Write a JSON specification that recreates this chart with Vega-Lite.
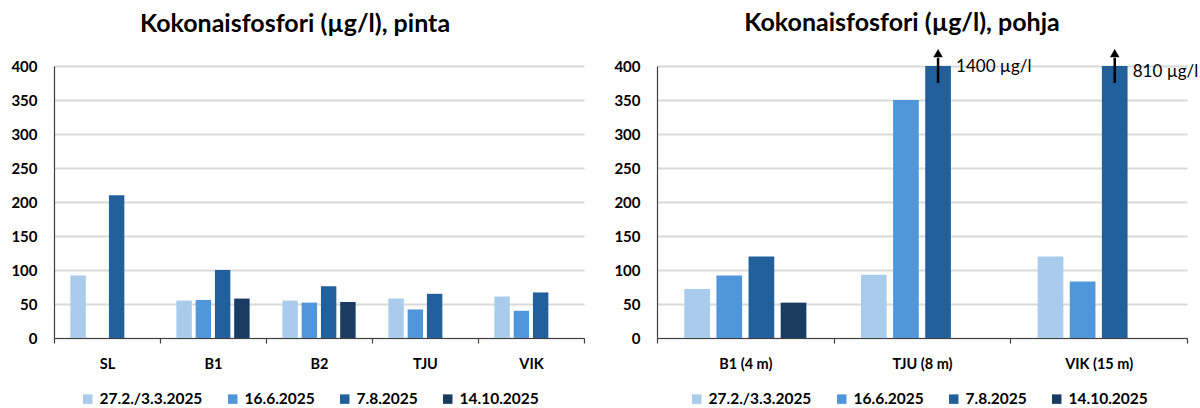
{
  "$schema": "https://vega.github.io/schema/vega-lite/v6.json",
  "padding": {"left": 10, "top": 10, "right": 0, "bottom": 0},
  "background": "white",
  "datasets": {
    "pinta": [
      {"site": "SL", "date": "27.2./3.3.2025", "value": 92},
      {"site": "SL", "date": "7.8.2025", "value": 210},
      {"site": "B1", "date": "27.2./3.3.2025", "value": 55},
      {"site": "B1", "date": "16.6.2025", "value": 56},
      {"site": "B1", "date": "7.8.2025", "value": 100},
      {"site": "B1", "date": "14.10.2025", "value": 58},
      {"site": "B2", "date": "27.2./3.3.2025", "value": 55},
      {"site": "B2", "date": "16.6.2025", "value": 52},
      {"site": "B2", "date": "7.8.2025", "value": 76},
      {"site": "B2", "date": "14.10.2025", "value": 53},
      {"site": "TJU", "date": "27.2./3.3.2025", "value": 58},
      {"site": "TJU", "date": "16.6.2025", "value": 42},
      {"site": "TJU", "date": "7.8.2025", "value": 65},
      {"site": "VIK", "date": "27.2./3.3.2025", "value": 61},
      {"site": "VIK", "date": "16.6.2025", "value": 40},
      {"site": "VIK", "date": "7.8.2025", "value": 67}
    ],
    "pohja": [
      {"site": "B1 (4 m)", "date": "27.2./3.3.2025", "value": 72},
      {"site": "B1 (4 m)", "date": "16.6.2025", "value": 92},
      {"site": "B1 (4 m)", "date": "7.8.2025", "value": 120},
      {"site": "B1 (4 m)", "date": "14.10.2025", "value": 52},
      {"site": "TJU (8 m)", "date": "27.2./3.3.2025", "value": 93},
      {"site": "TJU (8 m)", "date": "16.6.2025", "value": 350},
      {"site": "TJU (8 m)", "date": "7.8.2025", "value": 400},
      {"site": "VIK (15 m)", "date": "27.2./3.3.2025", "value": 120},
      {"site": "VIK (15 m)", "date": "16.6.2025", "value": 83},
      {"site": "VIK (15 m)", "date": "7.8.2025", "value": 400}
    ],
    "arrows": [
      {"site": "TJU (8 m)", "date": "7.8.2025", "y0": 375, "y1": 412, "head": 419, "labelY": 398, "label": "1400 µg/l"},
      {"site": "VIK (15 m)", "date": "7.8.2025", "y0": 375, "y1": 412, "head": 419, "labelY": 391, "label": "810 µg/l"}
    ]
  },
  "hconcat": [
    {
      "width": 530,
      "height": 272,
      "title": {"text": "Kokonaisfosfori (µg/l), pinta", "offset": 22, "dx": -24},
      "data": {"name": "pinta"},
      "mark": {"type": "bar"},
      "encoding": {
        "x": {"field": "site", "type": "nominal", "sort": ["SL", "B1", "B2", "TJU", "VIK"],
              "scale": {"paddingInner": 0, "paddingOuter": 0},
              "axis": {"title": null, "labelAngle": 0, "tickBand": "extent", "tickSize": 5, "labelPadding": 14, "grid": false}},
        "xOffset": {"field": "date", "type": "nominal",
                    "scale": {"domain": ["27.2./3.3.2025", "16.6.2025", "7.8.2025", "14.10.2025"], "paddingInner": 0.2, "paddingOuter": 0.85}},
        "y": {"field": "value", "type": "quantitative", "scale": {"domain": [0, 400], "nice": false},
              "axis": {"title": null, "values": [0, 50, 100, 150, 200, 250, 300, 350, 400], "ticks": false, "labelPadding": 17, "domain": true}},
        "color": {"field": "date", "type": "nominal",
                  "scale": {"domain": ["27.2./3.3.2025", "16.6.2025", "7.8.2025", "14.10.2025"], "range": ["#A9CBEC", "#5096DA", "#22609C", "#1A3C63"]},
                  "legend": {"orient": "none", "legendX": 26, "legendY": 325, "direction": "horizontal", "title": null}}
      }
    },
    {
      "width": 530,
      "height": 272,
      "title": {"text": "Kokonaisfosfori (µg/l), pohja", "offset": 13, "dx": -20},
      "layer": [
        {
          "data": {"name": "pohja"},
          "mark": {"type": "bar"},
          "encoding": {
            "x": {"field": "site", "type": "nominal", "sort": ["B1 (4 m)", "TJU (8 m)", "VIK (15 m)"],
                  "scale": {"paddingInner": 0, "paddingOuter": 0},
                  "axis": {"title": null, "labelAngle": 0, "tickBand": "extent", "tickSize": 5, "labelPadding": 14, "grid": false}},
            "xOffset": {"field": "date", "type": "nominal",
                        "scale": {"domain": ["27.2./3.3.2025", "16.6.2025", "7.8.2025", "14.10.2025"], "paddingInner": 0.2, "paddingOuter": 0.85}},
            "y": {"field": "value", "type": "quantitative", "scale": {"domain": [0, 400], "nice": false},
                  "axis": {"title": null, "values": [0, 50, 100, 150, 200, 250, 300, 350, 400], "ticks": false, "labelPadding": 17, "domain": true}},
            "color": {"field": "date", "type": "nominal",
                      "scale": {"domain": ["27.2./3.3.2025", "16.6.2025", "7.8.2025", "14.10.2025"], "range": ["#A9CBEC", "#5096DA", "#22609C", "#1A3C63"]},
                      "legend": {"orient": "none", "legendX": 32, "legendY": 325, "direction": "horizontal", "title": null}}
          }
        },
        {
          "data": {"name": "arrows"},
          "mark": {"type": "rule", "color": "black", "strokeWidth": 2.5},
          "encoding": {
            "x": {"field": "site", "type": "nominal", "sort": ["B1 (4 m)", "TJU (8 m)", "VIK (15 m)"]},
            "xOffset": {"field": "date", "type": "nominal"},
            "y": {"field": "y0", "type": "quantitative",
                  "axis": {"title": null, "values": [0, 50, 100, 150, 200, 250, 300, 350, 400], "ticks": false, "labelPadding": 17, "domain": true}},
            "y2": {"field": "y1"}
          }
        },
        {
          "data": {"name": "arrows"},
          "mark": {"type": "point", "shape": "triangle-up", "filled": true, "color": "black", "size": 90, "opacity": 1},
          "encoding": {
            "x": {"field": "site", "type": "nominal", "sort": ["B1 (4 m)", "TJU (8 m)", "VIK (15 m)"]},
            "xOffset": {"field": "date", "type": "nominal"},
            "y": {"field": "head", "type": "quantitative",
                  "axis": {"title": null, "values": [0, 50, 100, 150, 200, 250, 300, 350, 400], "ticks": false, "labelPadding": 17, "domain": true}}
          }
        },
        {
          "data": {"name": "arrows"},
          "mark": {"type": "text", "align": "left", "baseline": "middle", "dx": 18, "fontSize": 17, "font": "Lato", "color": "black"},
          "encoding": {
            "x": {"field": "site", "type": "nominal", "sort": ["B1 (4 m)", "TJU (8 m)", "VIK (15 m)"]},
            "xOffset": {"field": "date", "type": "nominal"},
            "y": {"field": "labelY", "type": "quantitative",
                  "axis": {"title": null, "values": [0, 50, 100, 150, 200, 250, 300, 350, 400], "ticks": false, "labelPadding": 17, "domain": true}},
            "text": {"field": "label"}
          }
        }
      ]
    }
  ],
  "spacing": 28,
  "resolve": {"scale": {"x": "independent", "xOffset": "independent"}, "legend": {"color": "independent"}},
  "config": {
    "font": "Lato",
    "view": {"stroke": null},
    "title": {"fontSize": 25, "fontWeight": "bold", "font": "Lato", "color": "black"},
    "axis": {"labelFont": "Lato", "labelFontSize": 15, "labelFontWeight": "bold", "labelColor": "black",
             "domainColor": "#404040", "domainWidth": 1.2, "tickColor": "#404040", "tickWidth": 1.2,
             "gridColor": "#D9D9D9", "gridWidth": 2},
    "axisX": {"labelFontSize": 14.5},
    "legend": {"labelFont": "Lato", "labelFontSize": 15.5, "labelFontWeight": "bold", "labelColor": "black",
               "symbolType": "square", "symbolSize": 90, "symbolStrokeWidth": 0, "labelOffset": 4, "columnPadding": 22}
  }
}
